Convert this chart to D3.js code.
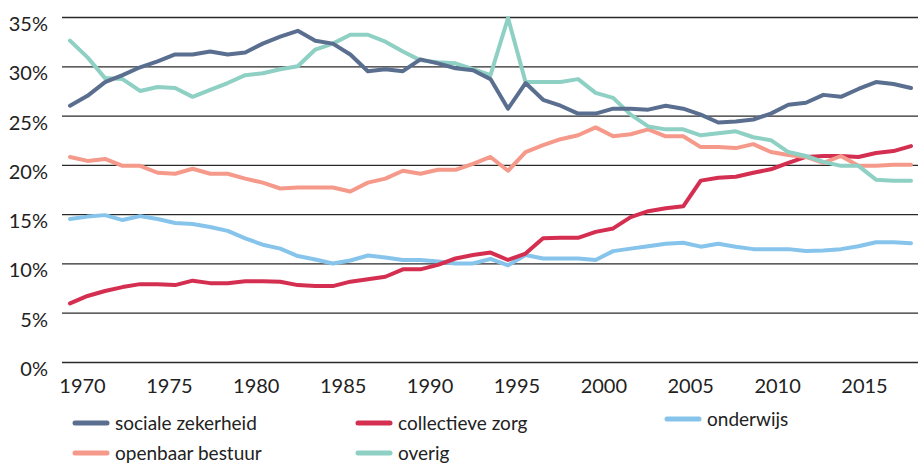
<!DOCTYPE html>
<meta charset="utf-8">
<head>
    <style>
        body { margin: 0; background: #fff; }
        text { font-family: Lato, "Noto Sans", sans-serif; fill: #222; }
        .grid line { stroke: #2a2a2a; stroke-width: 1.3; }
        .series { fill: none; stroke-width: 4; stroke-linejoin: round; stroke-linecap: round; }
    </style>
    <script src="https://d3js.org/d3.v7.min.js"></script>
</head>
<div id="my_dataviz"></div>

<script>

// years 1970 - 2018
var years = d3.range(1970, 2019);

var socialeZekerheid = [26.0, 27.0, 28.4, 29.1, 29.9, 30.5, 31.2, 31.2, 31.5, 31.2,
    31.4, 32.3, 33.0, 33.6, 32.6, 32.3, 31.2, 29.5, 29.7, 29.5,
    30.7, 30.3, 29.8, 29.6, 28.7, 25.7, 28.3, 26.6, 26.0, 25.2,
    25.2, 25.7, 25.7, 25.6, 26.0, 25.7, 25.1, 24.3, 24.4, 24.6,
    25.2, 26.1, 26.3, 27.1, 26.9, 27.7, 28.4, 28.2, 27.8];

var collectieveZorg = [5.95, 6.7, 7.2, 7.6, 7.9, 7.9, 7.8, 8.25, 8.0, 8.0,
    8.2, 8.2, 8.15, 7.8, 7.7, 7.7, 8.15, 8.4, 8.65, 9.4,
    9.4, 9.85, 10.5, 10.85, 11.1, 10.35, 11.0, 12.55, 12.6, 12.6,
    13.2, 13.55, 14.7, 15.3, 15.6, 15.8, 18.4, 18.7, 18.8, 19.2,
    19.55, 20.2, 20.8, 20.9, 20.9, 20.8, 21.2, 21.4, 21.9];

var onderwijs = [14.5, 14.75, 14.9, 14.4, 14.8, 14.5, 14.1, 14.0, 13.7, 13.3,
    12.55, 11.9, 11.5, 10.75, 10.4, 10.0, 10.3, 10.8, 10.6, 10.35,
    10.35, 10.2, 10.0, 10.0, 10.45, 9.8, 10.85, 10.5, 10.5, 10.5,
    10.35, 11.25, 11.5, 11.75, 12.0, 12.1, 11.7, 12.0, 11.7, 11.45,
    11.45, 11.45, 11.25, 11.3, 11.45, 11.75, 12.15, 12.15, 12.05];

var openbaarBestuur = [20.8, 20.4, 20.6, 19.9, 19.9, 19.2, 19.1, 19.6, 19.1, 19.1,
    18.6, 18.2, 17.6, 17.7, 17.7, 17.7, 17.3, 18.2, 18.6, 19.4,
    19.1, 19.5, 19.5, 20.1, 20.8, 19.4, 21.3, 22.0, 22.6, 23.0,
    23.8, 22.9, 23.1, 23.6, 22.9, 22.9, 21.8, 21.8, 21.7, 22.1,
    21.3, 21.0, 20.8, 20.2, 20.9, 19.9, 19.9, 20.0, 20.0];

var overig = [32.6, 30.9, 28.8, 28.7, 27.5, 27.9, 27.8, 26.9, 27.6, 28.3,
    29.1, 29.3, 29.7, 30.0, 31.7, 32.3, 33.2, 33.2, 32.5, 31.5,
    30.6, 30.4, 30.3, 29.7, 29.1, 34.9, 28.4, 28.4, 28.4, 28.7,
    27.3, 26.8, 25.1, 23.9, 23.6, 23.6, 23.0, 23.2, 23.4, 22.8,
    22.5, 21.3, 20.9, 20.3, 19.9, 19.9, 18.5, 18.4, 18.4];

var yTicks = [0, 5, 10, 15, 20, 25, 30, 35];
var xTicks = [1970, 1975, 1980, 1985, 1990, 1995, 2000, 2005, 2010, 2015];

var series = [
    {name: "sociale zekerheid", values: socialeZekerheid, color: "#5a6f8f"},
    {name: "collectieve zorg", values: collectieveZorg, color: "#d42f50"},
    {name: "onderwijs", values: onderwijs, color: "#86c4eb"},
    {name: "openbaar bestuur", values: openbaarBestuur, color: "#f59a8a"},
    {name: "overig", values: overig, color: "#8ed0c3"}
];

var width = 920, height = 463;

var svg = d3.select("#my_dataviz")
  .append("svg")
    .attr("width", width)
    .attr("height", height);

var xScale = d3.scaleLinear().domain([1970, 2018]).range([70, 911]);
var xLabel = d3.scaleLinear().domain([1970, 2015]).range([82, 864]);
var yScale = d3.scaleLinear().domain([0, 35]).range([362, 17]);

// gridlines
svg.append("g")
    .attr("class", "grid")
    .attr("transform", "translate(62,0)")
    .call(d3.axisLeft(yScale).tickValues(yTicks).tickSize(-856).tickFormat(""))
    .call(g => g.select(".domain").remove());

// y labels
svg.append("g")
    .selectAll("text")
    .data(yTicks)
    .enter().append("text")
    .attr("x", 48)
    .attr("y", d => yScale(d) + 14)
    .attr("text-anchor", "end")
    .style("font-size", "20px")
    .text(d => d + "%");

// x labels
svg.append("g")
    .attr("transform", "translate(0,393)")
    .call(d3.axisBottom(xLabel).tickValues(xTicks).tickSize(0).tickFormat(d3.format("d")))
    .call(g => g.select(".domain").remove())
    .call(g => g.selectAll("text")
        .attr("dy", 0).attr("y", 0)
        .style("font-size", "20px")
        .style("font-family", "Lato, 'Noto Sans', sans-serif")
        .attr("fill", "#222"));

var line = d3.line()
    .x((d, i) => xScale(years[i]))
    .y(d => yScale(d));

// draw order: bottom first
var order = [2, 1, 3, 4, 0];
order.forEach(function(k) {
    svg.append("path")
        .datum(series[k].values)
        .attr("class", "series")
        .attr("stroke", series[k].color)
        .attr("d", line);
});

// legend
var legendPos = [
    {x: 75, y: 423}, {x: 358, y: 423}, {x: 667, y: 419},
    {x: 75, y: 453}, {x: 358, y: 453}
];

var legend = svg.append("g");
series.forEach(function(s, i) {
    var p = legendPos[i];
    legend.append("line")
        .attr("x1", p.x).attr("x2", p.x + 32)
        .attr("y1", p.y).attr("y2", p.y)
        .attr("stroke", s.color)
        .attr("stroke-width", 5)
        .attr("stroke-linecap", "round");
    legend.append("text")
        .attr("x", p.x + 40)
        .attr("y", p.y + 7)
        .style("font-size", "19px")
        .text(s.name);
});

</script>
